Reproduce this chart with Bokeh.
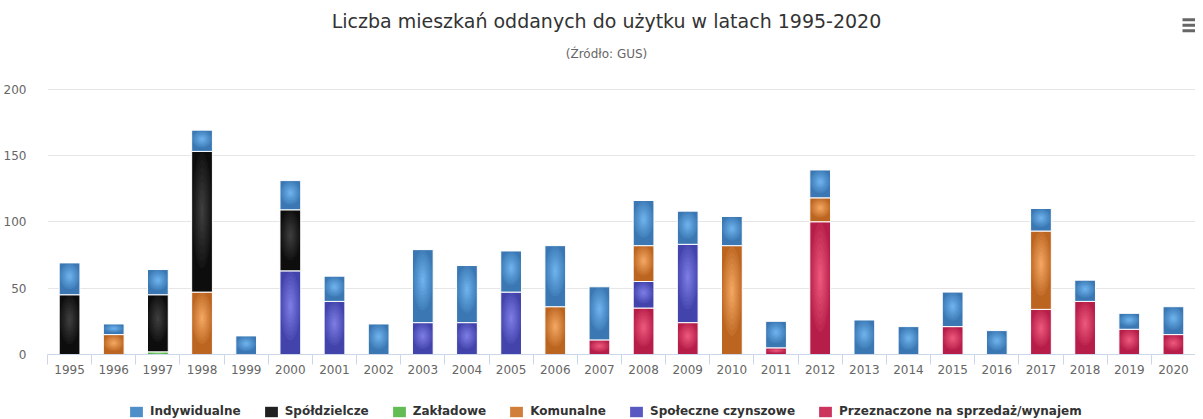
import numpy as np
from bokeh.plotting import figure
from bokeh.layouts import column
from bokeh.models import (Range1d, FixedTicker, Label, Legend, LegendItem, BoxAnnotation)
from bokeh.embed import file_html
from bokeh.resources import INLINE

years = [str(y) for y in range(1995, 2021)]
indywidualne = [24, 8, 19, 16, 14, 22, 19, 23, 55, 43, 31, 46, 40, 34, 25, 22, 20, 21, 26, 21, 26, 18, 17, 16, 12, 21]
spoldzielcze = [45, 0, 43, 106, 0, 46, 0, 0, 0, 0, 0, 0, 0, 0, 0, 0, 0, 0, 0, 0, 0, 0, 0, 0, 0, 0]
zakladowe = [0, 0, 2, 0, 0, 0, 0, 0, 0, 0, 0, 0, 0, 0, 0, 0, 0, 0, 0, 0, 0, 0, 0, 0, 0, 0]
komunalne = [0, 15, 0, 47, 0, 0, 0, 0, 0, 0, 0, 36, 0, 27, 0, 82, 0, 18, 0, 0, 0, 0, 59, 0, 0, 0]
spoleczne = [0, 0, 0, 0, 0, 63, 40, 0, 24, 24, 47, 0, 0, 20, 59, 0, 0, 0, 0, 0, 0, 0, 0, 0, 0, 0]
przeznaczone = [0, 0, 0, 0, 0, 0, 0, 0, 0, 0, 0, 0, 11, 35, 24, 0, 5, 100, 0, 0, 21, 0, 34, 40, 19, 15]

series_names = ["Indywidualne", "Spółdzielcze", "Zakładowe", "Komunalne",
                "Społeczne czynszowe", "Przeznaczone na sprzedaż/wynajem"]
series_vals = [indywidualne, spoldzielcze, zakladowe, komunalne, spoleczne, przeznaczone]
# (edge colour, centre colour) of each series' radial shading
edge_colors = ["#2c68a4", "#000000", "#3a9a2e", "#ac5410", "#34349e", "#a80f3c"]
center_colors = ["#70b4ee", "#404040", "#8be07a", "#f5a964", "#7e7ee6", "#ee5a7e"]


def mix(c1, c2, t):
    a = np.array([int(c1[i:i + 2], 16) for i in (1, 3, 5)], float)
    b = np.array([int(c2[i:i + 2], 16) for i in (1, 3, 5)], float)
    m = a + (b - a) * t
    return "#%02x%02x%02x" % tuple(int(round(v)) for v in m)


W, H1, H2 = 1195, 394, 25
TOP_B, BOTTOM_B = 5, 40
frame_h = H1 - TOP_B - BOTTOM_B
zero_y = H1 - BOTTOM_B                   # figure y (from top) of the frame bottom / value 0
TOP_PX = 88.5                            # figure y of the 200 gridline
px_per_unit = (zero_y - TOP_PX) / 200.0
y_end = frame_h / px_per_unit            # frame extends above 200 to hold the titles

p = figure(width=W, height=H1, output_backend="svg", toolbar_location=None,
           x_range=Range1d(-0.5, len(years) - 0.5), y_range=Range1d(0, y_end),
           min_border_left=39, min_border_right=0, min_border_top=TOP_B, min_border_bottom=BOTTOM_B)
p.outline_line_color = None
p.background_fill_color = "white"
p.border_fill_color = "white"

# stacked bars: bottom -> top is the reverse of the legend order
xs = np.arange(len(years), dtype=float)
BAR_W = 0.47
base = np.zeros(len(years))
N_LAYERS = 8
for i in reversed(range(len(series_names))):
    vals = np.array(series_vals[i], float)
    bot, top = base.copy(), base + vals
    base = top
    m = vals > 0
    xm, bm, tm = xs[m], bot[m], top[m]
    h = tm - bm
    # bar body
    p.quad(left=xm - BAR_W / 2, right=xm + BAR_W / 2, bottom=bm, top=tm,
           fill_color=mix(center_colors[i], edge_colors[i], 0.8), line_color=None)
    # radial shading: nested ellipses, lighter towards the upper centre
    cy = tm - 0.42 * h
    for k in range(N_LAYERS, 0, -1):
        f = k / N_LAYERS
        p.ellipse(x=xm, y=cy, width=(BAR_W - 0.02) * f, height=0.82 * h * f,
                  fill_color=mix(center_colors[i], edge_colors[i], 0.72 * (k - 0.5) / N_LAYERS),
                  line_color=None)
    # white border
    p.quad(left=xm - BAR_W / 2, right=xm + BAR_W / 2, bottom=bm, top=tm,
           fill_color=None, line_color="white", line_width=1)

# axes
p.xaxis.ticker = FixedTicker(ticks=list(range(len(years))),
                             minor_ticks=[i - 0.5 for i in range(len(years) + 1)])
p.xaxis.major_label_overrides = {i: years[i] for i in range(len(years))}
p.xaxis.major_tick_out = 0
p.xaxis.major_tick_in = 0
p.xaxis.minor_tick_out = 10
p.xaxis.minor_tick_in = 0
p.xaxis.minor_tick_line_color = "#ccd6eb"
p.xaxis.axis_line_color = "#ccd6eb"
p.xaxis.major_label_text_font = "DejaVu Sans"
p.xaxis.major_label_text_font_size = "12px"
p.xaxis.major_label_text_color = "#666666"
p.xaxis.major_label_standoff = 0

p.yaxis.ticker = FixedTicker(ticks=[0, 50, 100, 150, 200])
p.yaxis.axis_line_color = None
p.yaxis.major_tick_line_color = None
p.yaxis.minor_tick_line_color = None
p.yaxis.major_label_text_font = "DejaVu Sans"
p.yaxis.major_label_text_font_size = "12px"
p.yaxis.major_label_text_color = "#666666"
p.yaxis.major_label_standoff = 15

p.xgrid.grid_line_color = None
p.ygrid.grid_line_color = "#e6e6e6"
p.ygrid.grid_line_width = 1

# titles (screen units, measured up from the frame bottom)
p.add_layout(Label(x=559, y=zero_y - 20, x_units="screen", y_units="screen",
                   text="Liczba mieszkań oddanych do użytku w latach 1995-2020",
                   text_font="DejaVu Sans", text_font_size="19px", text_color="#333333",
                   text_align="center", text_baseline="middle"))
p.add_layout(Label(x=559, y=zero_y - 53, x_units="screen", y_units="screen",
                   text="(Źródło: GUS)",
                   text_font="DejaVu Sans", text_font_size="12px", text_color="#666666",
                   text_align="center", text_baseline="middle"))

# menu icon
for yc in [19.3, 24.8, 30.3]:
    p.add_layout(BoxAnnotation(left=1135, right=1154, bottom=zero_y - yc - 1.5, top=zero_y - yc + 1.5,
                               left_units="screen", right_units="screen",
                               bottom_units="screen", top_units="screen",
                               fill_color="#666666", fill_alpha=1, line_color=None))

# legend strip
p2 = figure(width=W, height=H2, output_backend="svg", toolbar_location=None,
            x_range=Range1d(0, W), y_range=Range1d(0, H2),
            x_axis_type=None, y_axis_type=None,
            min_border_left=0, min_border_right=0, min_border_top=0, min_border_bottom=0)
p2.outline_line_color = None
p2.xgrid.grid_line_color = None
p2.ygrid.grid_line_color = None
items = []
for i, name in enumerate(series_names):
    r = p2.vbar(x=[0], top=[0], width=0, fill_color=mix(center_colors[i], edge_colors[i], 0.5),
                line_color=None)
    items.append(LegendItem(label=name, renderers=[r]))
legend = Legend(items=items, orientation="horizontal", location=(81, 1),
                glyph_width=16, glyph_height=13, label_height=14, label_standoff=6, spacing=22,
                padding=2, margin=0, border_line_color=None, background_fill_alpha=0,
                label_text_font="DejaVu Sans", label_text_font_style="bold",
                label_text_font_size="12px", label_text_color="#333333")
p2.add_layout(legend, "center")

layout = column(p, p2, spacing=0)
open("out.html", "w").write(file_html(layout, INLINE))
